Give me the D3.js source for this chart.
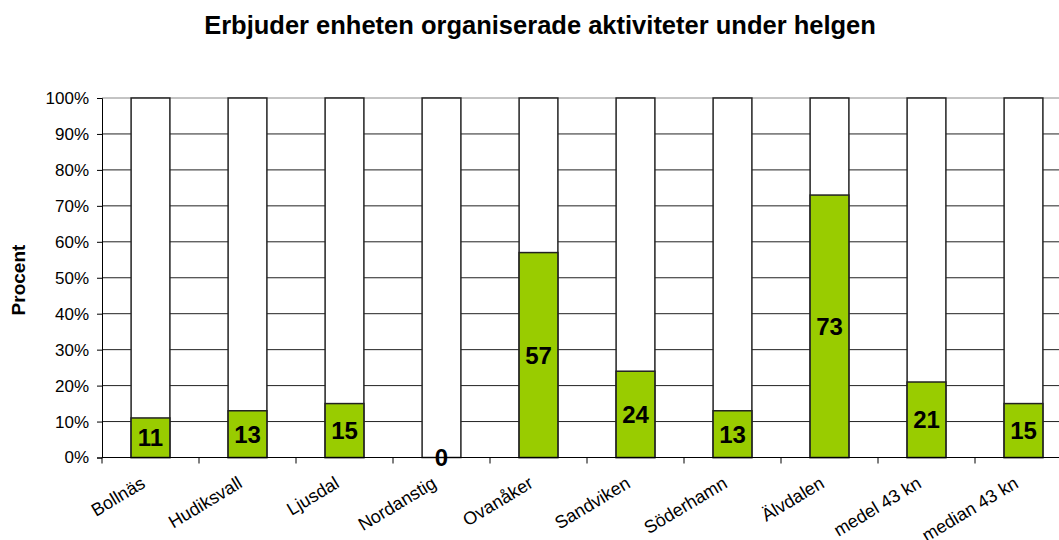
<!DOCTYPE html>
<html>
<head>
<meta charset="utf-8">
<script src="https://cdn.jsdelivr.net/npm/d3@7"></script>
<style>
body { margin: 0; background: #fff; overflow: hidden; }
text { font-family: "Liberation Sans", Arial, sans-serif; }
</style>
</head>
<body>
<svg width="1059" height="540"></svg>
<script>
const categories = ["Bollnäs", "Hudiksvall", "Ljusdal", "Nordanstig", "Ovanåker", "Sandviken", "Söderhamn", "Älvdalen", "medel 43 kn", "median 43 kn"];
const values = [11, 13, 15, 0, 57, 24, 13, 73, 21, 15];
const yTicks = [0, 10, 20, 30, 40, 50, 60, 70, 80, 90, 100];

const font = "Liberation Sans, Arial, sans-serif";
const svg = d3.select("svg");
const margin = { top: 98, left: 102 };
const innerWidth = 970;
const innerHeight = 359.5;
const g = svg.append("g").attr("transform", "translate(" + margin.left + "," + margin.top + ")");

const x = d3.scaleBand().domain(categories).range([0, innerWidth]).paddingInner(0.6).paddingOuter(0.3);
const xTick = d3.scaleBand().domain(categories).range([0, innerWidth]);
const y = d3.scaleLinear().domain([0, 100]).range([innerHeight, 0]);

// gridlines
g.selectAll(".grid").data(yTicks.filter(d => d > 0)).enter().append("line")
  .attr("x1", 0).attr("x2", innerWidth)
  .attr("y1", d => y(d)).attr("y2", d => y(d))
  .attr("stroke", d => d === 100 ? "#888" : "#222").attr("stroke-width", 1);

// y axis
const yAxis = d3.axisLeft(y).tickValues(yTicks).tickFormat(d => d + "%").tickSize(5).tickPadding(8);
const ya = g.append("g").call(yAxis);
ya.select(".domain").attr("stroke", "#000");
ya.selectAll("text").attr("font-size", 17).attr("fill", "#000").attr("font-family", font);

// background 100% bars
g.selectAll(".bg").data(categories).enter().append("rect")
  .attr("x", d => x(d)).attr("width", x.bandwidth())
  .attr("y", y(100)).attr("height", innerHeight)
  .attr("fill", "#fff").attr("stroke", "#222").attr("stroke-width", 1.5);

// green bars
g.selectAll(".bar").data(values).enter().append("rect")
  .attr("x", (d, i) => x(categories[i])).attr("width", x.bandwidth())
  .attr("y", d => y(d)).attr("height", d => innerHeight - y(d))
  .attr("fill", "#99CC00").attr("stroke", "#222").attr("stroke-width", 1.5);

// x axis
g.append("line").attr("x1", 0).attr("x2", innerWidth).attr("y1", innerHeight).attr("y2", innerHeight).attr("stroke", "#000");
g.selectAll(".xt").data(categories.concat(["end"])).enter().append("line")
  .attr("x1", (d, i) => i * xTick.bandwidth()).attr("x2", (d, i) => i * xTick.bandwidth())
  .attr("y1", innerHeight).attr("y2", innerHeight + 6).attr("stroke", "#000");

g.selectAll(".xl").data(categories).enter().append("text")
  .attr("transform", d => "translate(" + (x(d) + x.bandwidth() / 2 - 4) + "," + (innerHeight + 29) + ") rotate(-31)")
  .attr("text-anchor", "end").attr("font-family", font).attr("font-size", 18).attr("fill", "#000").text(d => d);

// value labels
g.selectAll(".vl").data(values).enter().append("text")
  .attr("x", (d, i) => x(categories[i]) + x.bandwidth() / 2)
  .attr("y", d => (y(d) + innerHeight) / 2)
  .attr("dy", "0.36em").attr("text-anchor", "middle").attr("font-family", font)
  .attr("font-size", 24).attr("font-weight", "bold").attr("fill", "#000")
  .text(d => d);

// title
svg.append("text").attr("x", 540).attr("y", 34).attr("text-anchor", "middle").attr("font-family", font)
  .attr("font-size", 25.5).attr("font-weight", "bold").text("Erbjuder enheten organiserade aktiviteter under helgen");

// y label
svg.append("text").attr("transform", "translate(25,280) rotate(-90)").attr("text-anchor", "middle").attr("font-family", font)
  .attr("font-size", 19).attr("font-weight", "bold").text("Procent");
</script>
</body>
</html>
